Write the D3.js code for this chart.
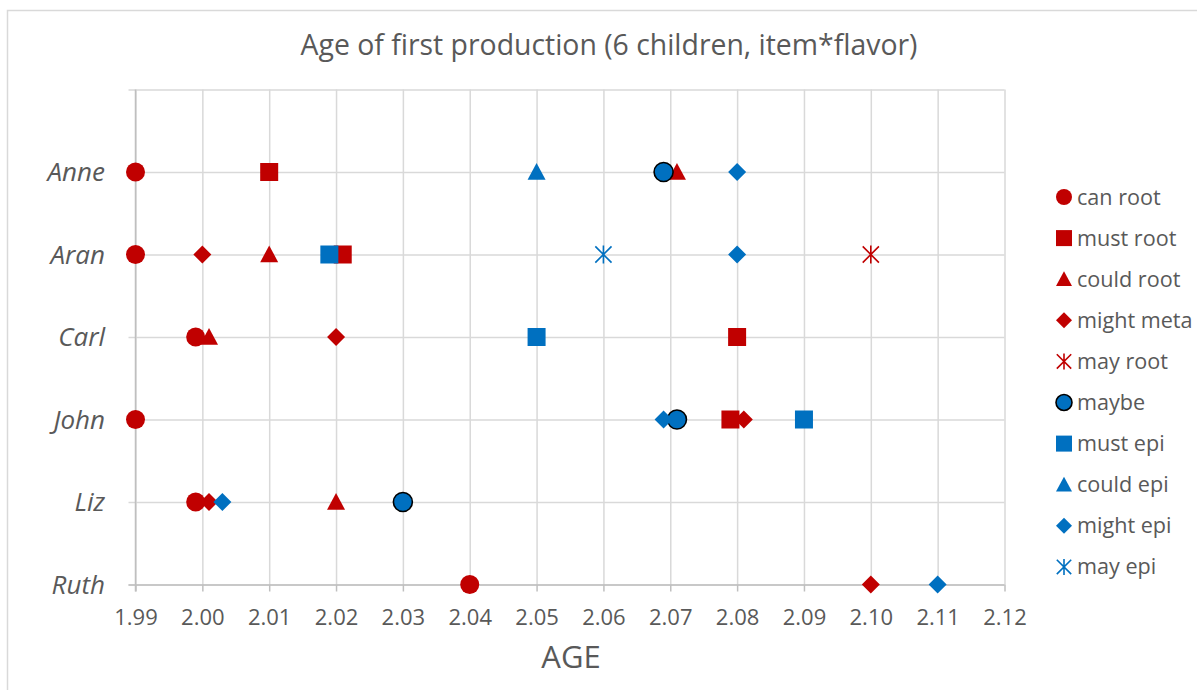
<!DOCTYPE html>
<html><head><meta charset="utf-8">
<script src="https://cdn.jsdelivr.net/npm/d3@7"></script>
<style>body{margin:0;background:#fff;} text{font-family:"Open Sans",Lato,sans-serif;}</style>
</head><body>
<svg id="chart" width="1197" height="690"></svg>
<script>
const title = "Age of first production (6 children, item*flavor)";
const xLabel = "AGE";
const children = ["Anne","Aran","Carl","John","Liz","Ruth"];
const xTicks = [1.99,2.00,2.01,2.02,2.03,2.04,2.05,2.06,2.07,2.08,2.09,2.10,2.11,2.12];
const seriesNames = ["can root","must root","could root","might meta","may root","maybe","must epi","could epi","might epi","may epi"];
const seriesColors = ["#c00000","#c00000","#c00000","#c00000","#c00000","#0070c0","#0070c0","#0070c0","#0070c0","#0070c0"];
const seriesShapes = ["circle","square","triangle","diamond","star","circle","square","triangle","diamond","star"];
// values: [child, age]
const canRoot   = [["Anne",1.99],["Aran",1.99],["Carl",1.999],["John",1.99],["Liz",1.999],["Ruth",2.04]];
const mustRoot  = [["Anne",2.01],["Aran",2.021],["Carl",2.08],["John",2.079]];
const couldRoot = [["Anne",2.071],["Aran",2.01],["Carl",2.001],["Liz",2.02]];
const mightMeta = [["Aran",2.00],["Carl",2.02],["John",2.081],["Liz",2.001],["Ruth",2.10]];
const mayRoot   = [["Aran",2.10]];
const maybe     = [["Anne",2.069],["John",2.071],["Liz",2.03]];
const mustEpi   = [["Aran",2.019],["Carl",2.05],["John",2.09]];
const couldEpi  = [["Anne",2.05]];
const mightEpi  = [["Anne",2.08],["Aran",2.08],["John",2.069],["Liz",2.003],["Ruth",2.11]];
const mayEpi    = [["Aran",2.06]];
const seriesValues = [canRoot,mustRoot,couldRoot,mightMeta,mayRoot,maybe,mustEpi,couldEpi,mightEpi,mayEpi];

const svg = d3.select("#chart");
const W = 1197, H = 690;
const plot = {left:135.5, right:1004.5, top:89.5, bottom:584.5};

svg.append("rect").attr("x",7.5).attr("y",10.5).attr("width",W+10).attr("height",H+10)
  .attr("fill","#fff").attr("stroke","#d9d9d9").attr("stroke-width",1.5);

const x = d3.scaleLinear().domain([1.99,2.12]).range([plot.left,plot.right]);
const yIndex = d3.scaleLinear().domain([children.length,0]).range([plot.bottom,plot.top]);
const y = name => yIndex(children.indexOf(name)+1);

// vertical gridlines
svg.append("g").attr("transform",`translate(0,${plot.bottom})`)
  .call(d3.axisBottom(x).tickValues(xTicks).tickSize(-(plot.bottom-plot.top)).tickFormat(""))
  .call(g=>{g.select(".domain").remove();g.selectAll("line").attr("stroke","#d9d9d9").attr("stroke-width",1.5);});
// horizontal gridlines
const yGridVals = d3.range(0,children.length+1);
svg.append("g").attr("transform",`translate(${plot.left},0)`)
  .call(d3.axisLeft(yIndex).tickValues(yGridVals).tickSize(-(plot.right-plot.left)).tickFormat(""))
  .call(g=>{g.select(".domain").remove();g.selectAll("line").attr("stroke","#d9d9d9").attr("stroke-width",1.5);});
// left ticks
svg.append("g").attr("transform",`translate(${plot.left},0)`)
  .call(d3.axisLeft(yIndex).tickValues(yGridVals).tickSize(7).tickFormat(""))
  .call(g=>{g.select(".domain").remove();g.selectAll("line").attr("stroke","#d9d9d9").attr("stroke-width",1.5);});
// left axis line
svg.append("line").attr("x1",plot.left).attr("x2",plot.left).attr("y1",plot.top).attr("y2",plot.bottom+7)
  .attr("stroke","#bfbfbf").attr("stroke-width",1.5);
// bottom axis
const xAxis = svg.append("g").attr("transform",`translate(0,${plot.bottom})`)
  .call(d3.axisBottom(x).tickValues(xTicks).tickSize(7).tickSizeOuter(0).tickPadding(18).tickFormat(d3.format(".2f")));
xAxis.select(".domain").attr("stroke","#bfbfbf").attr("stroke-width",1.5).attr("d",`M${plot.left-7},0.5H${plot.right}`);
xAxis.selectAll(".tick line").attr("stroke","#bfbfbf").attr("stroke-width",1.5);
xAxis.selectAll("text").attr("fill","#595959").style("font-size","22px").style("font-family","Open Sans");

// y labels
svg.append("g").selectAll("text").data(children).join("text")
  .attr("x",105).attr("y",d=>y(d)).attr("dy","0.35em").attr("text-anchor","end")
  .attr("fill","#595959").style("font-size","26px").style("font-style","italic").text(d=>d);

// title & axis title
svg.append("text").attr("x",609).attr("y",55).attr("text-anchor","middle").attr("fill","#595959")
  .style("font-size","28.4px").text(title);
svg.append("text").attr("x",571).attr("y",668).attr("text-anchor","middle").attr("fill","#595959")
  .style("font-size","31px").text(xLabel);

function drawMarker(g, shape, color, s, outline){
  const h = s/2;
  if(shape==="circle"){
    g.append("circle").attr("r",h).attr("fill",color).attr("stroke",outline?"#000":"none").attr("stroke-width",outline?1.6:0);
  } else if(shape==="square"){
    g.append("rect").attr("x",-h).attr("y",-h).attr("width",s).attr("height",s).attr("fill",color);
  } else if(shape==="triangle"){
    g.append("path").attr("d",`M0,${-h}L${h},${h*0.85}L${-h},${h*0.85}Z`).attr("fill",color);
  } else if(shape==="diamond"){
    g.append("path").attr("d",`M0,${-h}L${h},0L0,${h}L${-h},0Z`).attr("fill",color);
  } else if(shape==="star"){
    const d = h*0.9;
    g.append("path").attr("d",`M${-d},${-d}L${d},${d}M${-d},${d}L${d},${-d}M0,${-h}L0,${h}`)
      .attr("stroke",color).attr("stroke-width",1.6).attr("fill","none");
  }
}

// points
seriesValues.forEach((vals,i)=>{
  const g = svg.append("g");
  vals.forEach(v=>{
    const m = g.append("g").attr("transform",`translate(${x(v[1])},${y(v[0])})`);
    drawMarker(m, seriesShapes[i], seriesColors[i], seriesShapes[i]==="circle"?19:18, seriesNames[i]==="maybe");
  });
});

// legend
const legend = svg.append("g");
seriesNames.forEach((n,i)=>{
  const ly = 197 + i*41.1;
  const m = legend.append("g").attr("transform",`translate(1064,${ly})`);
  drawMarker(m, seriesShapes[i], seriesColors[i], 16, n==="maybe");
  legend.append("text").attr("x",1077).attr("y",ly).attr("dy","0.35em").attr("fill","#595959")
    .style("font-size","21.6px").text(n);
});
</script>
</body></html>
